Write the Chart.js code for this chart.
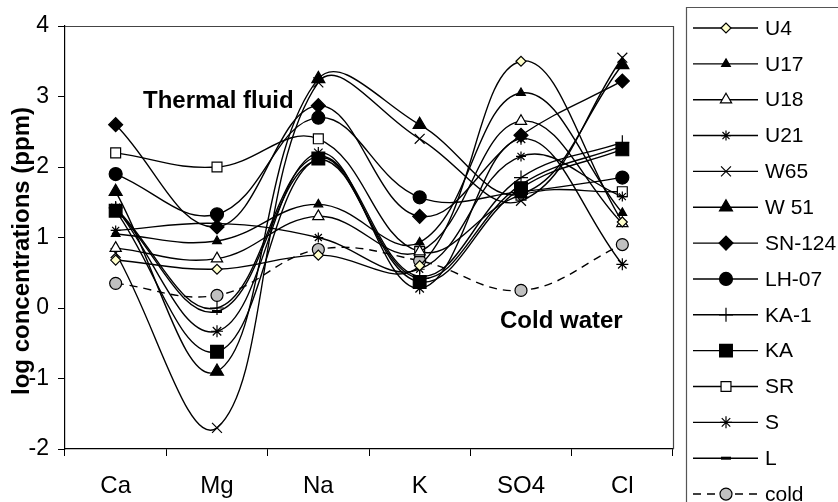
<!DOCTYPE html>
<html>
<head>
<meta charset="utf-8">
<script src="https://cdn.jsdelivr.net/npm/chart.js@4.4.1/dist/chart.umd.min.js"></script>
<style>
  html, body { margin: 0; padding: 0; background: #fff; }
  #wrap { width: 838px; height: 502px; position: relative; }
</style>
</head>
<body>
<div id="wrap"><canvas id="c" width="838" height="502"></canvas></div>
<script>
const categories = ["Ca", "Mg", "Na", "K", "SO4", "Cl"];
const yTicks = [-2, -1, 0, 1, 2, 3, 4];

const U4    = [0.68, 0.55, 0.75, 0.60, 3.50, 1.22];
const U17   = [1.05, 0.95, 1.47, 0.93, 3.05, 1.35];
const U18   = [0.85, 0.70, 1.30, 0.80, 2.65, 1.20];
const U21   = [1.10, 1.20, 1.00, 0.55, 2.15, 1.58];
const W65   = [0.78, -1.70, 3.20, 2.40, 1.52, 3.55];
const W51   = [1.65, -0.90, 3.25, 2.60, 1.62, 3.45];
const SN124 = [2.60, 1.15, 2.87, 1.30, 2.45, 3.22];
const LH07  = [1.90, 1.33, 2.70, 1.57, 1.65, 1.85];
const KA1   = [1.42, 0.00, 2.15, 0.45, 1.85, 2.35];
const KA    = [1.38, -0.62, 2.12, 0.37, 1.70, 2.25];
const SR    = [2.20, 2.00, 2.40, 0.80, 1.60, 1.65];
const S     = [1.42, -0.33, 2.20, 0.28, 2.40, 0.62];
const L     = [1.40, -0.05, 2.10, 0.42, 1.75, 2.30];
const cold  = [0.35, 0.18, 0.83, 0.67, 0.25, 0.90];

const seriesNames = ["U4", "U17", "U18", "U21", "W65", "W 51", "SN-124", "LH-07", "KA-1", "KA", "SR", "S", "L", "cold"];
const seriesData  = [U4, U17, U18, U21, W65, W51, SN124, LH07, KA1, KA, SR, S, L, cold];

const styles = [
  {pointStyle: 'rectRot', radius: 5, bg: '#ffffcc'},
  {pointStyle: 'triangle', radius: 5, bg: '#000'},
  {pointStyle: 'triangle', radius: 6.5, bg: '#fff'},
  {pointStyle: 'star', radius: 5, bg: '#000'},
  {pointStyle: 'crossRot', radius: 7, bg: '#000'},
  {pointStyle: 'triangle', radius: 7.5, bg: '#000'},
  {pointStyle: 'rectRot', radius: 7, bg: '#000'},
  {pointStyle: 'circle', radius: 6.5, bg: '#000'},
  {pointStyle: 'cross', radius: 7, bg: '#000'},
  {pointStyle: 'rect', radius: 9, bg: '#000'},
  {pointStyle: 'rect', radius: 7, bg: '#fff'},
  {pointStyle: 'star', radius: 6, bg: '#000'},
  {pointStyle: 'line', radius: 5, bg: '#000'},
  {pointStyle: 'circle', radius: 6, bg: '#c0c0c0'}
];

const datasets = seriesNames.map((name, i) => ({
  label: name,
  data: seriesData[i],
  borderColor: '#000',
  borderWidth: 1.4,
  borderDash: name === 'cold' ? [8, 6] : [],
  tension: 0.4,
  pointStyle: styles[i].pointStyle,
  pointRadius: styles[i].radius,
  pointBackgroundColor: styles[i].bg,
  pointBorderColor: '#000',
  pointBorderWidth: styles[i].pointStyle === 'line' ? 3 : 1.2,
  fill: false
}));

const FONT = '"Liberation Sans", Arial, sans-serif';

const decor = {
  id: 'decor',
  afterDraw(chart) {
    const ctx = chart.ctx;
    const a = chart.chartArea;
    ctx.save();
    ctx.strokeStyle = '#444';
    ctx.lineWidth = 1.2;
    ctx.beginPath();
    ctx.moveTo(a.left, a.top + 0.5);
    ctx.lineTo(a.right + 0.5, a.top + 0.5);
    ctx.lineTo(a.right + 0.5, a.bottom);
    ctx.stroke();

    ctx.fillStyle = '#000';
    ctx.font = 'bold 24px ' + FONT;
    ctx.textAlign = 'center';
    ctx.textBaseline = 'middle';
    ctx.translate(22, 251);
    ctx.rotate(-Math.PI / 2);
    ctx.fillText('log concentrations (ppm)', 0, 0);
    ctx.restore();

    ctx.save();
    ctx.fillStyle = '#000';
    ctx.font = 'bold 24px ' + FONT;
    ctx.textAlign = 'left';
    ctx.textBaseline = 'middle';
    ctx.fillText('Thermal fluid', 143, 101);
    ctx.fillText('Cold water', 500, 321);

    ctx.strokeStyle = '#555';
    ctx.lineWidth = 1.2;
    ctx.beginPath();
    ctx.moveTo(838, 7.5);
    ctx.lineTo(686.5, 7.5);
    ctx.lineTo(686.5, 502);
    ctx.stroke();

    ctx.font = '21px ' + FONT;
    seriesNames.forEach((name, i) => {
      const y = 28 + i * 35.85;
      ctx.save();
      ctx.strokeStyle = '#000';
      ctx.lineWidth = 1.4;
      if (name === 'cold') ctx.setLineDash([8, 6]);
      ctx.beginPath();
      ctx.moveTo(693, y);
      ctx.lineTo(758, y);
      ctx.stroke();
      ctx.setLineDash([]);
      ctx.fillStyle = styles[i].bg;
      ctx.lineWidth = styles[i].pointStyle === 'line' ? 3 : 1.2;
      Chart.helpers.drawPoint(ctx, {
        pointStyle: styles[i].pointStyle,
        radius: styles[i].radius,
        borderWidth: ctx.lineWidth,
        rotation: 0
      }, 726, y);
      ctx.restore();
      ctx.fillStyle = '#000';
      ctx.textAlign = 'left';
      ctx.textBaseline = 'middle';
      ctx.fillText(name, 765, y + 1);
    });
    ctx.restore();
  }
};

new Chart(document.getElementById('c'), {
  type: 'line',
  data: { labels: categories, datasets },
  options: {
    responsive: false,
    animation: false,
    layout: { padding: { top: 26, right: 165, left: 0, bottom: 0 } },
    plugins: { legend: { display: false }, tooltip: { enabled: false } },
    scales: {
      x: {
        type: 'category',
        offset: true,
        grid: { display: true, drawOnChartArea: false, drawTicks: true, tickLength: 7, offset: true, color: '#000', lineWidth: 1 },
        border: { display: true, color: '#000', width: 1.2 },
        ticks: { color: '#000', font: { family: FONT, size: 24 }, padding: 16, maxRotation: 0, autoSkip: false },
        afterFit(scale) { scale.height = 53; }
      },
      y: {
        min: -2, max: 4,
        afterBuildTicks(scale) { scale.ticks = yTicks.map(v => ({ value: v })); },
        grid: { display: true, drawOnChartArea: false, drawTicks: true, tickLength: 7, color: '#000', lineWidth: 1 },
        border: { display: true, color: '#000', width: 1.2 },
        ticks: { color: '#000', font: { family: FONT, size: 23 }, padding: 9 },
        afterFit(scale) { scale.width = 65; }
      }
    }
  },
  plugins: [decor]
});
</script>
</body>
</html>
